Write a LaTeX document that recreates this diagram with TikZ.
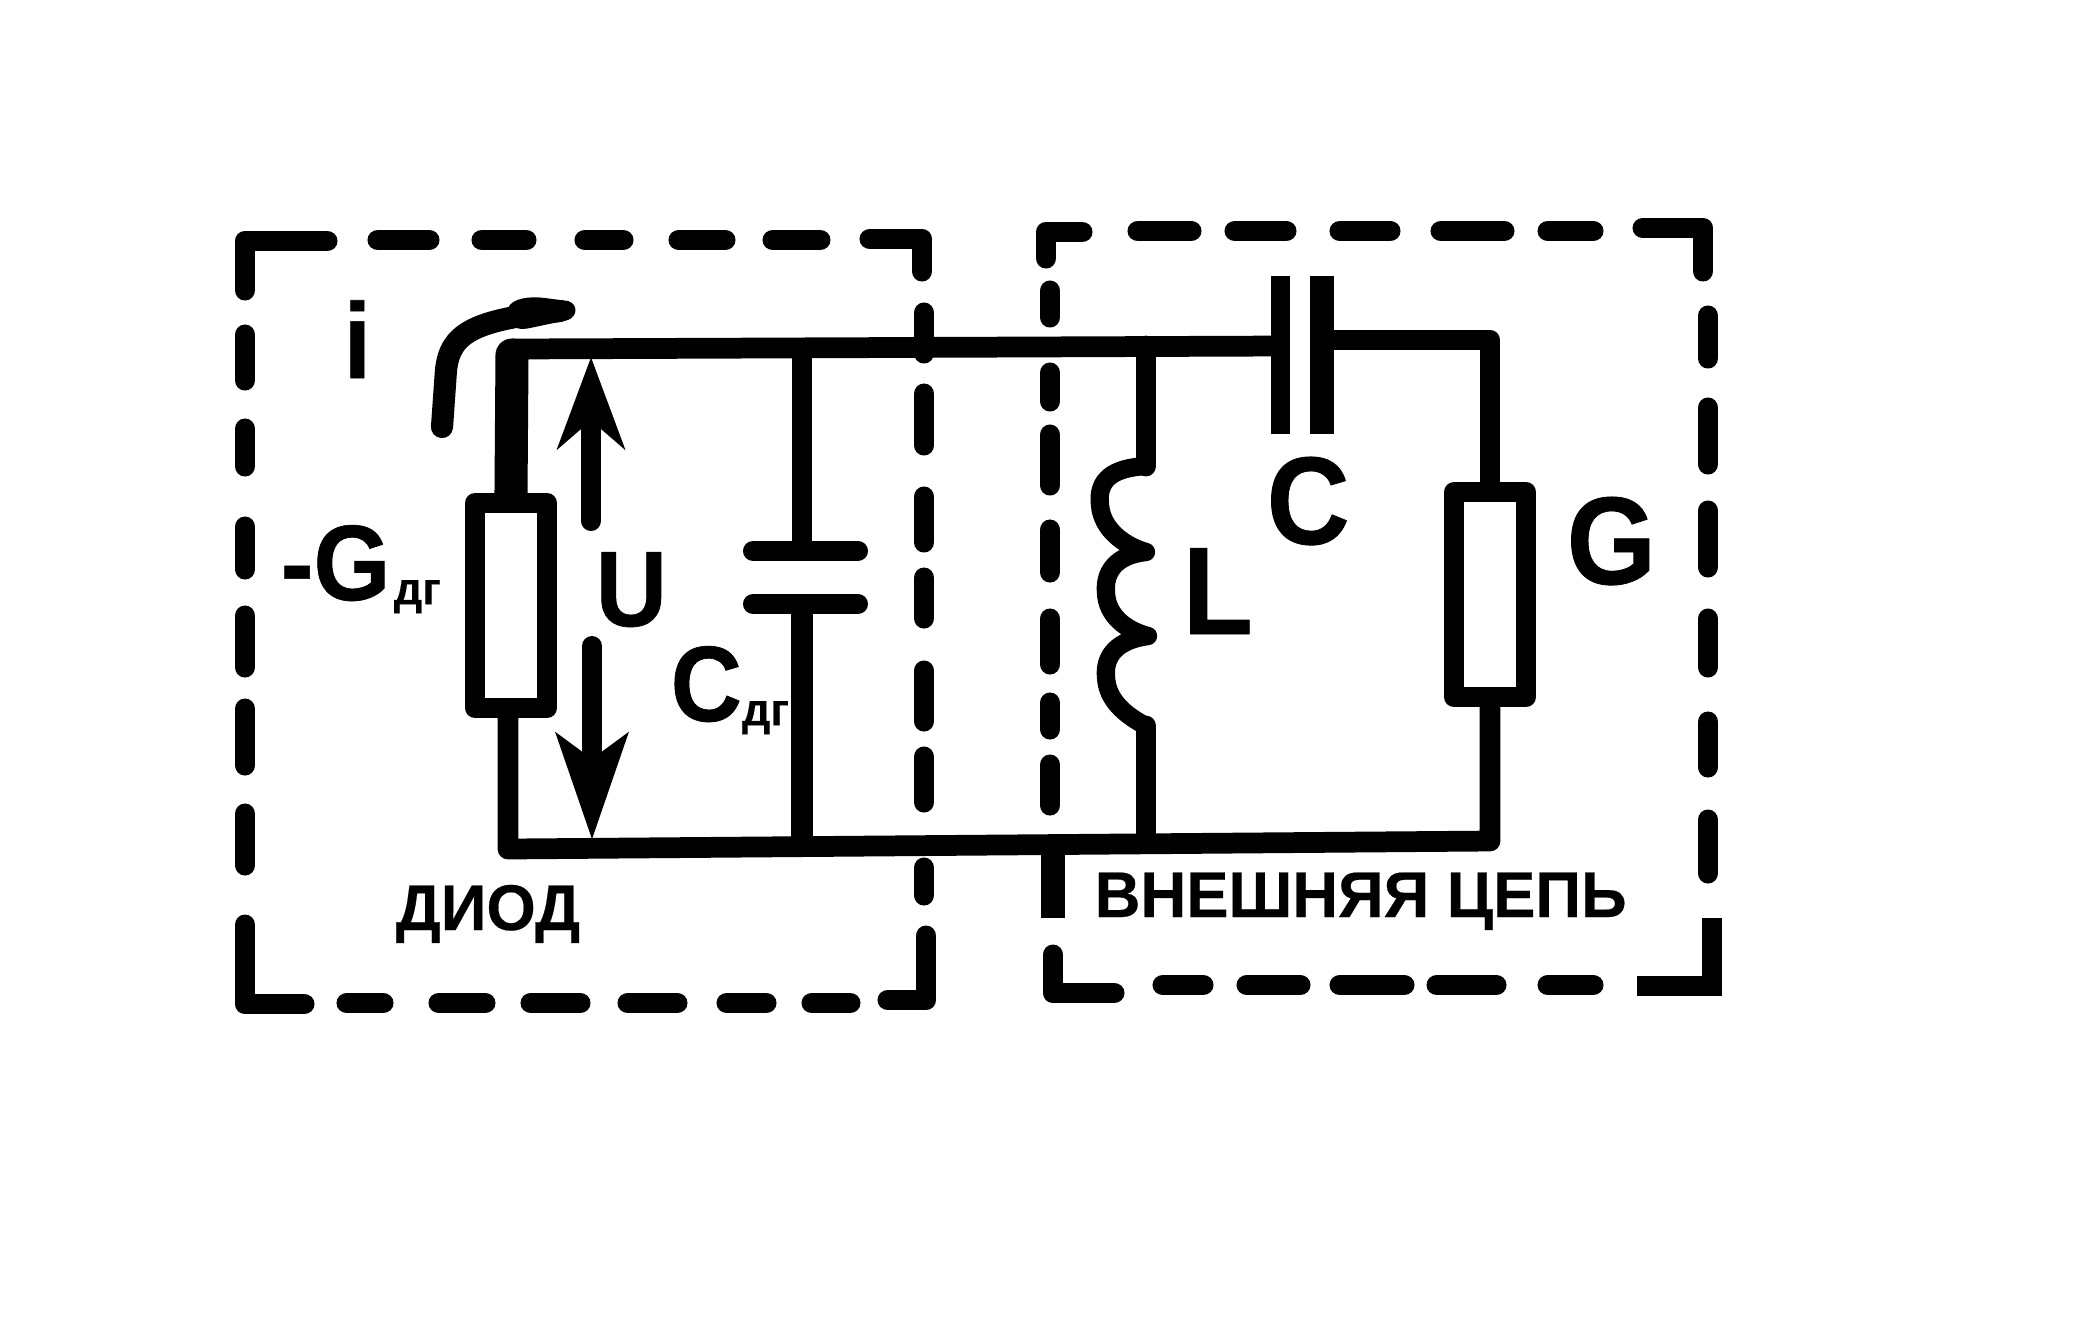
\documentclass[tikz,border=0pt]{standalone}
\usepackage{fontspec}
\setmainfont{Liberation Sans}
\newfontfamily\tallfont{Liberation Sans Bold}[FakeStretch=0.92,FakeBold=0.6]
\newfontfamily\capfont{Liberation Sans Bold}[FakeStretch=0.98,FakeBold=0.3]
\usetikzlibrary{arrows.meta,positioning}
\tikzset{
    wire/.style={
        draw=black,
        line width=5.9pt,
        line join=round
    },
    lead/.style={
        draw=black,
        line width=9.4pt,
        line cap=round
    },
    plate/.style={
        draw=black,
        line width=5.7pt,
        line cap=round
    },
    boxdash/.style={
        draw=black,
        line width=5.9pt,
        line cap=round,
        line join=round,
        shorten <=2.8pt,
        shorten >=2.8pt
    },
    resistor/.style={
        draw=black,
        fill=white,
        rectangle,
        line join=round,
        line width=5.6pt,
        inner sep=0pt,
        minimum width=0.72cm,
        minimum height=2.05cm
    },
    upfor/.style={
        draw=black,
        line width=5.7pt,
        line cap=round,
        -{Stealth[length=26pt,width=19pt,inset=8pt]}
    },
    downfor/.style={
        draw=black,
        line width=5.7pt,
        line cap=round,
        -{Stealth[length=30pt,width=20pt,inset=7pt]}
    },
    biglabel/.style={
        font=\fontsize{35.5}{35.5}\tallfont,
        inner sep=0pt,
        anchor=base west
    },
    midlabel/.style={
        font=\fontsize{30.5}{30.5}\tallfont,
        inner sep=0pt,
        anchor=base west
    },
    caption/.style={
        font=\fontsize{18.4}{18.4}\capfont,
        inner sep=0pt,
        anchor=base west
    }
}
\newcommand{\dgsub}{\raisebox{-1.2pt}{\fontsize{13}{13}\capfont дг}}

\begin{document}
\begin{tikzpicture}[x=0.01cm,y=-0.01cm]
    \useasboundingbox (0,0) rectangle (2079,1335);

    % Diode box
    \draw[boxdash] (337,241) -- (245,241) -- (245,300);
    \foreach \a/\b in {368/439,472/536,575/633,669/735,763/830}
        \draw[boxdash] (\a,240) -- (\b,240);
    \draw[boxdash] (860,239) -- (922,239) -- (922,281);
    \foreach \a/\b in {303/363,384/455,487/552,568/628,661/731,747/812,858/905}
        \draw[boxdash] (924,\a) -- (924,\b);
    \draw[boxdash] (926,926) -- (926,1000) -- (878,1000);
    \foreach \a/\b in {802/860,717/776,618/687,521/590,429/495,337/393}
        \draw[boxdash] (\a,1003) -- (\b,1003);
    \draw[boxdash] (314,1004) -- (245,1004) -- (245,915);
    \foreach \a/\b in {804/875,699/775,606/677,517/579,419/476,325/390}
        \draw[boxdash] (245,\a) -- (245,\b);

    % External circuit box
    \draw[boxdash] (1092,232) -- (1046,232) -- (1046,268);
    \foreach \a/\b in {1128/1201,1225/1296,1330/1400,1431/1514,1538/1603}
        \draw[boxdash] (\a,231) -- (\b,231);
    \draw[boxdash] (1633,228) -- (1703,228) -- (1703,281);
    \foreach \a/\b in {306/368,398/474,501/577,609/677,712/777,810/883}
        \draw[boxdash] (1708,\a) -- (1708,\b);
    \draw[line width=5.7pt] (1712,918) -- (1712,986) -- (1637,986);
    \foreach \a/\b in {1538/1603,1427/1506,1330/1414,1237/1310,1153/1213}
        \draw[boxdash] (\a,985) -- (\b,985);
    \draw[boxdash] (1124,993) -- (1053,993) -- (1053,945);
    \draw[line width=6.8pt] (1053,850) -- (1053,918);
    \foreach \a/\b in {755/815,693/739,609/674,520/582,425/495,363/411,281/327}
        \draw[boxdash] (1050,\a) -- (1050,\b);

    % Main elements
    \node[resistor] (Gdiode) at (511,605.5) {};
    \node[resistor] (Gload) at (1490,594.5) {};
    \coordinate (cornerTL) at (512,349);
    \coordinate (cornerBL) at (508,849);
    \coordinate (cornerTR) at (1490,340);
    \coordinate (cornerBR) at (1490,841);
    \coordinate (Cleft) at (1280,346);
    \coordinate (Cright) at (1322,340);

    % Wires
    \draw[wire] (cornerTL) -- (Cleft);
    \draw[wire] (Cright) -- (cornerTR) -- (Gload.north);
    \draw[wire] (Gload.south) -- (cornerBR) -- (cornerBL) -- (cornerBL |- Gdiode.south);
    \draw[lead] (Gdiode.north) -- (512,355);

    % Capacitor C
    \draw[line width=5.4pt] (1280,276) -- (Cleft) -- (1280,434);
    \draw[line width=6.8pt] (1322,276) -- (Cright) -- (1322,434);

    % Capacitor Cdg
    \coordinate (Cdgtop) at (802,551);
    \coordinate (Cdgbot) at (802,604);
    \draw[wire] (802,349) -- (Cdgtop);
    \draw[line width=6.5pt] (Cdgbot) -- (802,845);
    \draw[plate] (753,551) -- (Cdgtop) -- (858,551);
    \draw[plate] (753,604) -- (Cdgbot) -- (858,604);

    % Inductor L
    \coordinate (Ltop) at (1146,466);
    \coordinate (Lbot) at (1146,726);
    \draw[wire,line cap=round] (1146,346) -- (Ltop);
    \draw[wire,line cap=round] (Lbot) -- (1146,840);
    \draw[line width=5.2pt,line join=round] (Ltop)
        .. controls (1112,468) and (1097,480) .. (1100,505)
        .. controls (1102,530) and (1125,546) .. (1146,552)
        .. controls (1116,555) and (1104,572) .. (1106,593)
        .. controls (1107,615) and (1125,630) .. (1148,636)
        .. controls (1118,640) and (1104,655) .. (1106,677)
        .. controls (1107,700) and (1125,715) .. (Lbot);

    % Voltage arrows
    \coordinate (Uup) at (591,357);
    \coordinate (Udown) at (592,840);
    \draw[upfor] (591,521) -- (Uup);
    \draw[downfor] (592,646) -- (Udown);

    % Current arrow
    \coordinate (itail) at (442,427);
    \coordinate (itip) at (560,311);
    \draw[wire,line width=6.3pt,line cap=round] (itail) -- (446,370)
        .. controls (450,335) and (470,320) .. (itip);
    \fill (508,308) .. controls (512,298) and (530,296) .. (545,298)
        -- (568,301) .. controls (578,304) and (578,316) .. (568,320)
        -- (530,328) .. controls (512,332) and (505,322) .. (508,308);

    % Labels
    \node[midlabel] (ilabel) at (343,378) {i};
    \node[midlabel] (Gdlabel) at (280,600) {-G\hspace{1pt}\dgsub};
    \node[midlabel] (Ulabel) at (595,626) {U};
    \node[midlabel] (Cdglabel) at (670,721) {C\dgsub};
    \node[biglabel] (Clabel) at (1266,544) {C};
    \node[biglabel] (Llabel) at (1182,634) {L};
    \node[biglabel] (Glabel) at (1566,584) {G};
    \node[caption] (diodlabel) at (395,930) {ДИОД};
    \node[caption] (extlabel) at (1094,917) {ВНЕШНЯЯ ЦЕПЬ};
\end{tikzpicture}
\end{document}
